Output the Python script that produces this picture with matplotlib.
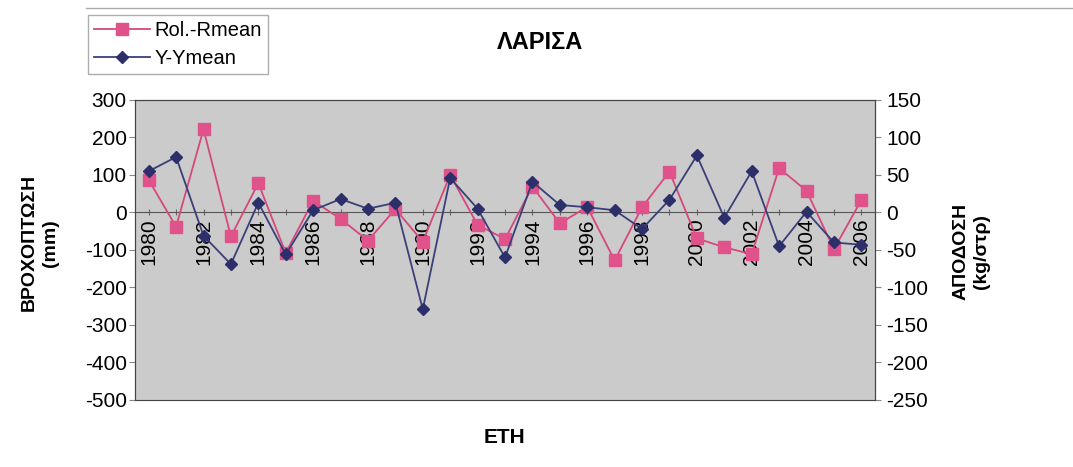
import numpy as np
import matplotlib.pyplot as plt
from matplotlib.lines import Line2D

plt.rcParams['font.family'] = ['Liberation Sans', 'DejaVu Sans']
plt.rcParams['axes.unicode_minus'] = False

years = list(range(1980, 2007))
rain_dev = [87, -38, 222, -64, 78, -108, 31, -17, -75, 9, -78, 100, -33, -71, 69,
            -29, 15, -128, 14, 109, -69, -93, -111, 118, 58, -98, 33]
yield_dev = [55, 74, -31, -69, 13, -56, 3, 18, 5, 13, -129, 46, 5, -60, 41,
             10, 7, 3, -22, 17, 76, -7, 55, -45, 1, -40, -43]
year_labels = [str(y) if y % 2 == 0 else '' for y in years]

x = np.arange(len(years))

fig = plt.figure(figsize=(10.73, 4.67), dpi=100)
ax = fig.add_axes([0.1258, 0.1435, 0.6897, 0.6424])
ax2 = ax.twinx()

ax.set_facecolor('#cbcbcb')
ax.set_xlim(-0.5, len(years) - 0.5)
ax.set_ylim(-500, 300)
ax2.set_ylim(-250, 150)

l1, = ax.plot(x, rain_dev, color='#d5487a', lw=1.3, marker='s', ms=8,
              mfc='#e0528a', mec='#e0528a', zorder=3)
l2, = ax2.plot(x, yield_dev, color='#3a3f78', lw=1.3, marker='D', ms=6.5,
               mfc='#2c2f6a', mec='#2c2f6a', zorder=3)

# category axis crosses at zero
ax.spines['bottom'].set_position(('data', 0))
ax.spines['bottom'].set_color('#555555')
ax.set_xticks(x)
ax.set_xticklabels(year_labels, rotation=90, fontsize=15, va='top')
ax.tick_params(axis='x', direction='inout', length=5, color='#666666', pad=2)

ax.set_yticks(np.arange(-500, 301, 100))
ax.tick_params(axis='y', labelsize=15, length=4, color='#888888', pad=2)
ax2.set_yticks(np.arange(-250, 151, 50))
ax2.tick_params(axis='y', labelsize=15, length=4, color='#888888', pad=4)

for s in ['top', 'left', 'right']:
    ax.spines[s].set_color('#444444')
for s in ['top', 'left', 'right', 'bottom']:
    ax2.spines[s].set_color('#444444')

fig.text(0.037, 0.48, 'ΒΡΟΧΟΠΤΩΣΗ\n(mm)', rotation=90, ha='center', va='center',
         fontsize=14, fontweight='bold', linespacing=1.3)
fig.text(0.905, 0.462, 'ΑΠΟΔΟΣΗ\n(kg/στρ)', rotation=90, ha='center', va='center',
         fontsize=14, fontweight='bold', linespacing=1.3)
fig.text(0.503, 0.91, 'ΛΑΡΙΣΑ', ha='center', va='center', fontsize=17, fontweight='bold')
fig.text(0.47, 0.064, 'ΕΤΗ', ha='center', va='center', fontsize=15, fontweight='bold')

fig.legend([l1, l2], ['Rol.-Rmean', 'Y-Ymean'], loc='upper left',
           bbox_to_anchor=(0.082, 0.968), fontsize=14.5, frameon=True, fancybox=False,
           edgecolor='#999999', borderpad=0.3, labelspacing=0.45, handlelength=2.8,
           handletextpad=0.2, borderaxespad=0)

fig.add_artist(Line2D([0.08, 1.0], [0.983, 0.983], color='#aaaaaa', lw=1))

fig.savefig('out.png', dpi=100)
